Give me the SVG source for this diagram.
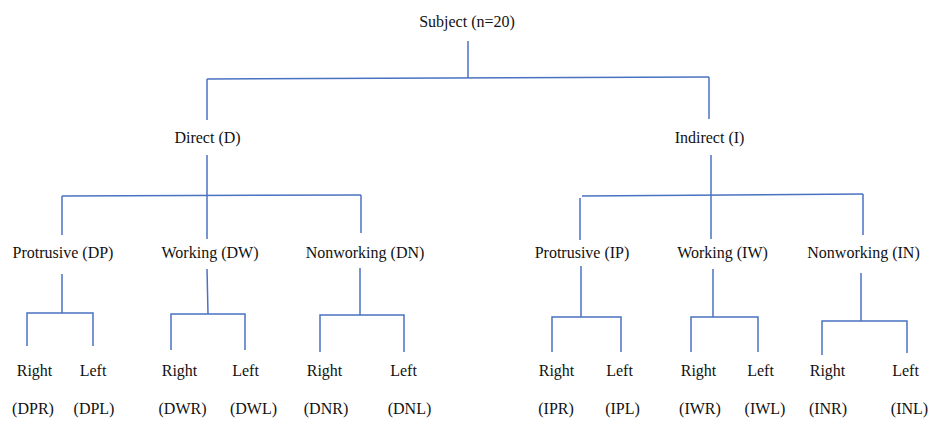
<svg xmlns="http://www.w3.org/2000/svg" width="935" height="421" viewBox="0 0 935 421">
<style>
.t text{font-family:'Liberation Serif','Times New Roman',Times,'DejaVu Serif',serif;font-size:16px;fill:#111;text-anchor:middle}
.c line,.c polyline{stroke:#4a72c0;stroke-width:1.5;fill:none}
</style>
<rect width="935" height="421" fill="#fff"/>
<g class="c" id="connectors">
<line x1="468" y1="41" x2="468" y2="78"/>
<line x1="207" y1="79" x2="709" y2="77"/>
<line x1="207" y1="79" x2="207" y2="120"/>
<line x1="709" y1="77" x2="709" y2="119"/>
<line x1="207" y1="155" x2="207" y2="239"/>
<line x1="62" y1="196" x2="361" y2="195"/>
<line x1="62" y1="196" x2="62" y2="235"/>
<line x1="361" y1="195" x2="361" y2="233"/>
<line x1="711" y1="155" x2="711" y2="239"/>
<line x1="582" y1="196" x2="863" y2="194"/>
<line x1="580" y1="198" x2="580" y2="240"/>
<line x1="863" y1="194" x2="863" y2="235"/>
<line x1="62" y1="274" x2="62" y2="313"/>
<polyline points="27,346 27,313 93,313 93,346"/>
<line x1="207" y1="269" x2="208" y2="314"/>
<polyline points="171,350 171,314 245,314 245,350"/>
<line x1="360" y1="268" x2="360" y2="315"/>
<polyline points="320,352 320,315 404,315 404,352"/>
<line x1="581" y1="266" x2="581" y2="317"/>
<polyline points="552,352 552,317 621,317 621,352"/>
<line x1="713" y1="269" x2="713" y2="317"/>
<polyline points="691,352 691,317 758,317 758,352"/>
<line x1="861" y1="273" x2="861" y2="321"/>
<polyline points="822,355 822,321 907,321 907,353"/>
</g>
<g class="t" font-family="Liberation Serif, serif">
<g id="subject"><text x="467" y="27">Subject (n=20)</text></g>
<g id="direct"><text x="207.5" y="143">Direct (D)</text></g>
<g id="indirect"><text x="709.5" y="143">Indirect (I)</text></g>
<g id="dp"><text x="63" y="258">Protrusive (DP)</text></g>
<g id="dw"><text x="210" y="258">Working (DW)</text></g>
<g id="dn"><text x="365" y="258">Nonworking (DN)</text></g>
<g id="ip"><text x="582" y="258">Protrusive (IP)</text></g>
<g id="iw"><text x="722.5" y="258">Working (IW)</text></g>
<g id="in"><text x="863.5" y="258">Nonworking (IN)</text></g>
<g id="dpr"><text x="34.5" y="376">Right</text><text x="33" y="414">(DPR)</text></g>
<g id="dpl"><text x="93" y="376">Left</text><text x="94" y="414">(DPL)</text></g>
<g id="dwr"><text x="179.5" y="376">Right</text><text x="182.5" y="414">(DWR)</text></g>
<g id="dwl"><text x="245.5" y="376">Left</text><text x="253.5" y="414">(DWL)</text></g>
<g id="dnr"><text x="324.5" y="376">Right</text><text x="326" y="414">(DNR)</text></g>
<g id="dnl"><text x="403.5" y="376">Left</text><text x="409.5" y="414">(DNL)</text></g>
<g id="ipr"><text x="556.5" y="376">Right</text><text x="556" y="414">(IPR)</text></g>
<g id="ipl"><text x="619.5" y="376">Left</text><text x="622.5" y="414">(IPL)</text></g>
<g id="iwr"><text x="698.5" y="376">Right</text><text x="700" y="414">(IWR)</text></g>
<g id="iwl"><text x="760.5" y="376">Left</text><text x="765" y="414">(IWL)</text></g>
<g id="inr"><text x="827.5" y="376">Right</text><text x="828" y="414">(INR)</text></g>
<g id="inl"><text x="905.5" y="376">Left</text><text x="909.5" y="414">(INL)</text></g>
</g>
</svg>
